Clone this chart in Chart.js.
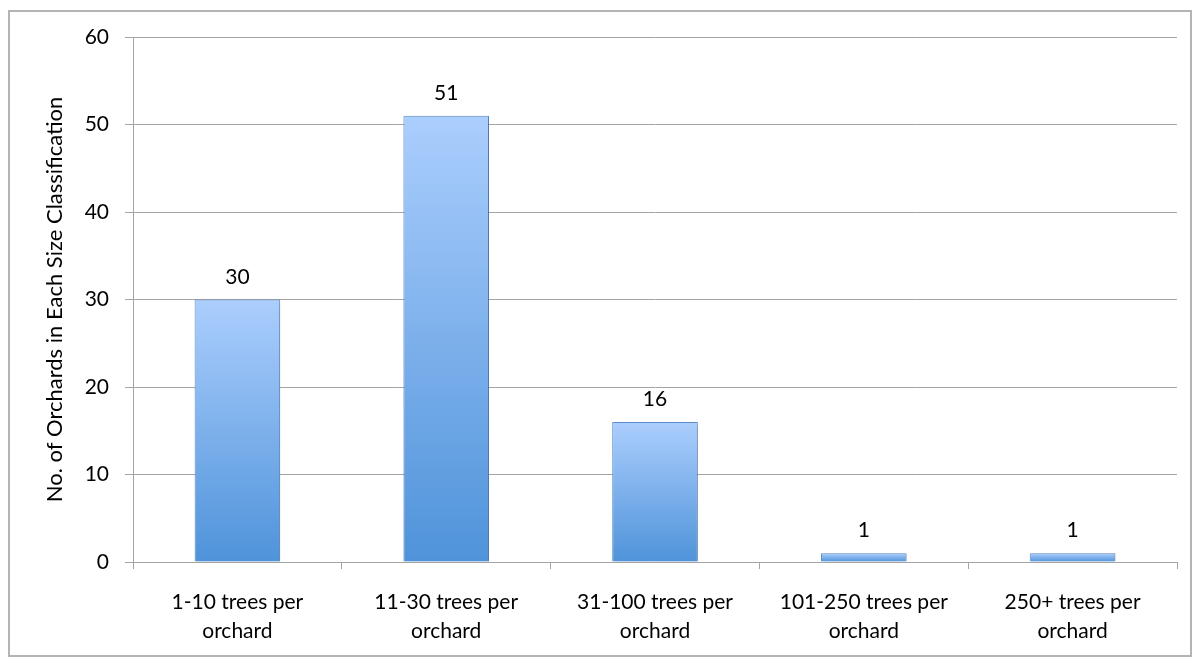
<!DOCTYPE html>
<html>
<head>
<meta charset="utf-8">
<script src="https://cdn.jsdelivr.net/npm/chart.js@4"></script>
<style>
    body { margin: 0; background: #fff; }
    #wrap { position: relative; width: 1200px; height: 664px; }
    #frame { position: absolute; left: 8px; top: 10px; width: 1180px; height: 643px; border: 2px solid #b4b4b4; }
    #chart { position: absolute; left: 0; top: 0; }
</style>
</head>
<body>
<div id="wrap">
    <div id="frame"></div>
    <canvas id="chart" width="1200" height="664"></canvas>
</div>
<script>
let categories = [
    ["1-10 trees per", "orchard"],
    ["11-30 trees per", "orchard"],
    ["31-100 trees per", "orchard"],
    ["101-250 trees per", "orchard"],
    ["250+ trees per", "orchard"]
];
let orchards = [30, 51, 16, 1, 1];
let yTicks = [0, 10, 20, 30, 40, 50, 60];
let yTitle = "No. of Orchards in Each Size Classification";

let fontName = "Lato, 'Open Sans', sans-serif";
let gridGray = "#a4a4a4";

// each bar gets its own light-to-dark gradient
function barGradient(context) {
    let chart = context.chart;
    if (!chart.chartArea || !chart.scales.y) {
        return "#78a9ea";
    }
    let value = orchards[context.dataIndex];
    let yScale = chart.scales.y;
    let top = yScale.getPixelForValue(value);
    let bottom = yScale.getPixelForValue(0);
    if (bottom - top < 1) {
        top = bottom - 1;
    }
    let g = chart.ctx.createLinearGradient(0, top, 0, bottom);
    g.addColorStop(0, "#abcefd");
    g.addColorStop(1, "#4f93da");
    return g;
}

let shadowPlugin = {
    id: "barShadow",
    beforeDatasetsDraw(chart) {
        let ctx = chart.ctx;
        ctx.save();
        ctx.shadowColor = "rgba(0,0,0,0.22)";
        ctx.shadowBlur = 4;
        ctx.shadowOffsetX = 2;
        ctx.shadowOffsetY = 1;
    },
    afterDatasetsDraw(chart) {
        chart.ctx.restore();
    }
};

let valueLabels = {
    id: "valueLabels",
    afterDatasetsDraw(chart) {
        let ctx = chart.ctx;
        let meta = chart.getDatasetMeta(0);
        ctx.save();
        ctx.fillStyle = "#000";
        ctx.font = "21px " + fontName;
        ctx.textAlign = "center";
        ctx.textBaseline = "alphabetic";
        meta.data.forEach((bar, i) => {
            ctx.fillText(String(orchards[i]), bar.x, bar.y - 16);
        });
        ctx.restore();
    }
};

function createChart() {
    let ctx = document.getElementById("chart");

    new Chart(ctx, {
        type: "bar",
        data: {
            labels: categories,
            datasets: [{
                data: orchards,
                backgroundColor: barGradient,
                borderColor: "#5f93d4",
                borderWidth: 1,
                barPercentage: 0.41,
                categoryPercentage: 1
            }]
        },
        options: {
            responsive: false,
            animation: false,
            layout: {
                padding: { left: 0, top: 37, right: 23, bottom: 0 }
            },
            plugins: {
                legend: { display: false },
                tooltip: { enabled: false }
            },
            scales: {
                x: {
                    grid: {
                        offset: true,
                        drawOnChartArea: false,
                        drawTicks: true,
                        tickLength: 7,
                        color: gridGray
                    },
                    border: { color: gridGray, width: 1 },
                    ticks: {
                        color: "#000",
                        padding: 19,
                        maxRotation: 0,
                        font: { family: fontName, size: 21, lineHeight: 1.38 }
                    },
                    afterFit(scale) {
                        scale.height = 664 - 562;
                    }
                },
                y: {
                    min: 0,
                    max: 60,
                    afterBuildTicks(scale) {
                        scale.ticks = yTicks.map(v => ({ value: v }));
                    },
                    grid: {
                        color: gridGray,
                        tickLength: 8
                    },
                    border: { color: gridGray, width: 1 },
                    ticks: {
                        color: "#000",
                        padding: 16,
                        font: { family: fontName, size: 21 }
                    },
                    title: {
                        display: true,
                        text: yTitle,
                        color: "#000",
                        padding: { top: 42, bottom: 0 },
                        font: { family: fontName, size: 22 }
                    },
                    afterFit(scale) {
                        scale.width = 133;
                    }
                }
            }
        },
        plugins: [shadowPlugin, valueLabels]
    });
}

createChart();
</script>
</body>
</html>
